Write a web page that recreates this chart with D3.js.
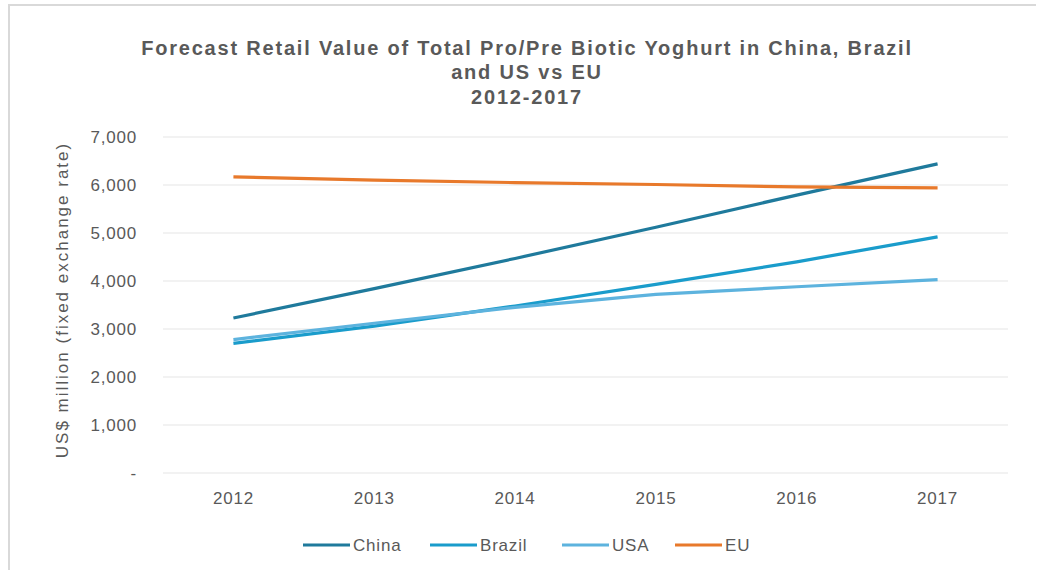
<!DOCTYPE html>
<html>
<head>
<meta charset="utf-8">
<script src="https://cdn.jsdelivr.net/npm/d3@7"></script>
<style>
  body { margin: 0; background: #fff; }
  svg { display: block; font-family: "Liberation Sans", Arial, sans-serif; }
</style>
</head>
<body>
<div id="chart"></div>
<script>
// data
const years = ["2012", "2013", "2014", "2015", "2016", "2017"];
const china = [3230, 3840, 4470, 5120, 5790, 6440];
const brazil = [2700, 3060, 3480, 3930, 4400, 4920];
const usa = [2780, 3120, 3450, 3720, 3880, 4030];
const eu = [6170, 6100, 6050, 6010, 5960, 5940];
const yTicks = [0, 1000, 2000, 3000, 4000, 5000, 6000, 7000];

const seriesNames = ["China", "Brazil", "USA", "EU"];
const seriesColors = ["#1f7a9c", "#1a9ccb", "#5db3de", "#e8792b"];
const seriesValues = [china, brazil, usa, eu];

const width = 1038, height = 570;
const margin = {left: 163, right: 30, top: 137, bottom: 97};

const svg = d3.select("#chart").append("svg")
    .attr("width", width)
    .attr("height", height);

// faint frame like the screenshot
svg.append("line").attr("x1", 8).attr("x2", 1036).attr("y1", 5).attr("y2", 5)
    .attr("stroke", "#d9d9d9").attr("stroke-width", 2);
svg.append("line").attr("x1", 9).attr("x2", 9).attr("y1", 5).attr("y2", 570)
    .attr("stroke", "#d9d9d9").attr("stroke-width", 2);

const x = d3.scaleBand()
    .domain(years)
    .range([margin.left, width - margin.right]);

const y = d3.scaleLinear()
    .domain([0, 7000])
    .range([height - margin.bottom, margin.top]);

// gridlines
svg.append("g")
    .selectAll("line")
    .data(yTicks)
    .join("line")
    .attr("x1", margin.left)
    .attr("x2", width - margin.right)
    .attr("y1", d => y(d))
    .attr("y2", d => y(d))
    .attr("stroke", "#e6e6e6")
    .attr("stroke-width", 1.2);

// y axis
const yAxis = svg.append("g")
    .attr("transform", `translate(${margin.left},0)`)
    .call(d3.axisLeft(y)
        .tickValues(yTicks)
        .tickSize(0)
        .tickPadding(26)
        .tickFormat(d => d == 0 ? "-" : d3.format(",")(d)));
yAxis.select(".domain").remove();
yAxis.selectAll("text")
    .attr("fill", "#595959")
    .style("font-size", "17px")
    .style("letter-spacing", "0.8px");

// x axis
const xAxis = svg.append("g")
    .attr("transform", `translate(0,${height - margin.bottom})`)
    .call(d3.axisBottom(x).tickSize(0).tickPadding(19));
xAxis.select(".domain").remove();
xAxis.selectAll("text")
    .attr("fill", "#595959")
    .style("font-size", "17px")
    .style("letter-spacing", "0.8px");

// y label
svg.append("text")
    .attr("transform", "translate(68,300) rotate(-90)")
    .attr("text-anchor", "middle")
    .attr("fill", "#595959")
    .style("font-size", "17px")
    .style("letter-spacing", "2px")
    .text("US$ million (fixed exchange rate)");

// title
const titleLines = ["Forecast Retail Value of Total Pro/Pre Biotic Yoghurt in China, Brazil", "and US vs EU", "2012-2017"];
svg.append("g")
    .selectAll("text")
    .data(titleLines)
    .join("text")
    .attr("x", 527)
    .attr("y", (d, i) => [55, 79, 104][i])
    .attr("text-anchor", "middle")
    .attr("fill", "#595959")
    .style("font-size", "20px")
    .style("letter-spacing", "1.8px")
    .style("font-weight", "bold")
    .text(d => d);

// lines
const line = d3.line()
    .x((d, i) => x(years[i]) + x.bandwidth() / 2)
    .y(d => y(d));

svg.append("g")
    .selectAll("path")
    .data(seriesValues)
    .join("path")
    .attr("d", d => line(d))
    .attr("fill", "none")
    .attr("stroke", (d, i) => seriesColors[i])
    .attr("stroke-width", 3.2)
    .attr("stroke-linejoin", "round");

// legend
const legendX = [303, 430, 562, 675];
const legend = svg.append("g")
    .selectAll("g")
    .data(seriesNames)
    .join("g")
    .attr("transform", (d, i) => `translate(${legendX[i]},545)`);
legend.append("line")
    .attr("x1", 0).attr("x2", 47)
    .attr("stroke", (d, i) => seriesColors[i])
    .attr("stroke-width", 3.2);
legend.append("text")
    .attr("x", 50)
    .attr("dy", "0.35em")
    .attr("fill", "#595959")
    .style("font-size", "17px")
    .style("letter-spacing", "0.8px")
    .text(d => d);
</script>
</body>
</html>
